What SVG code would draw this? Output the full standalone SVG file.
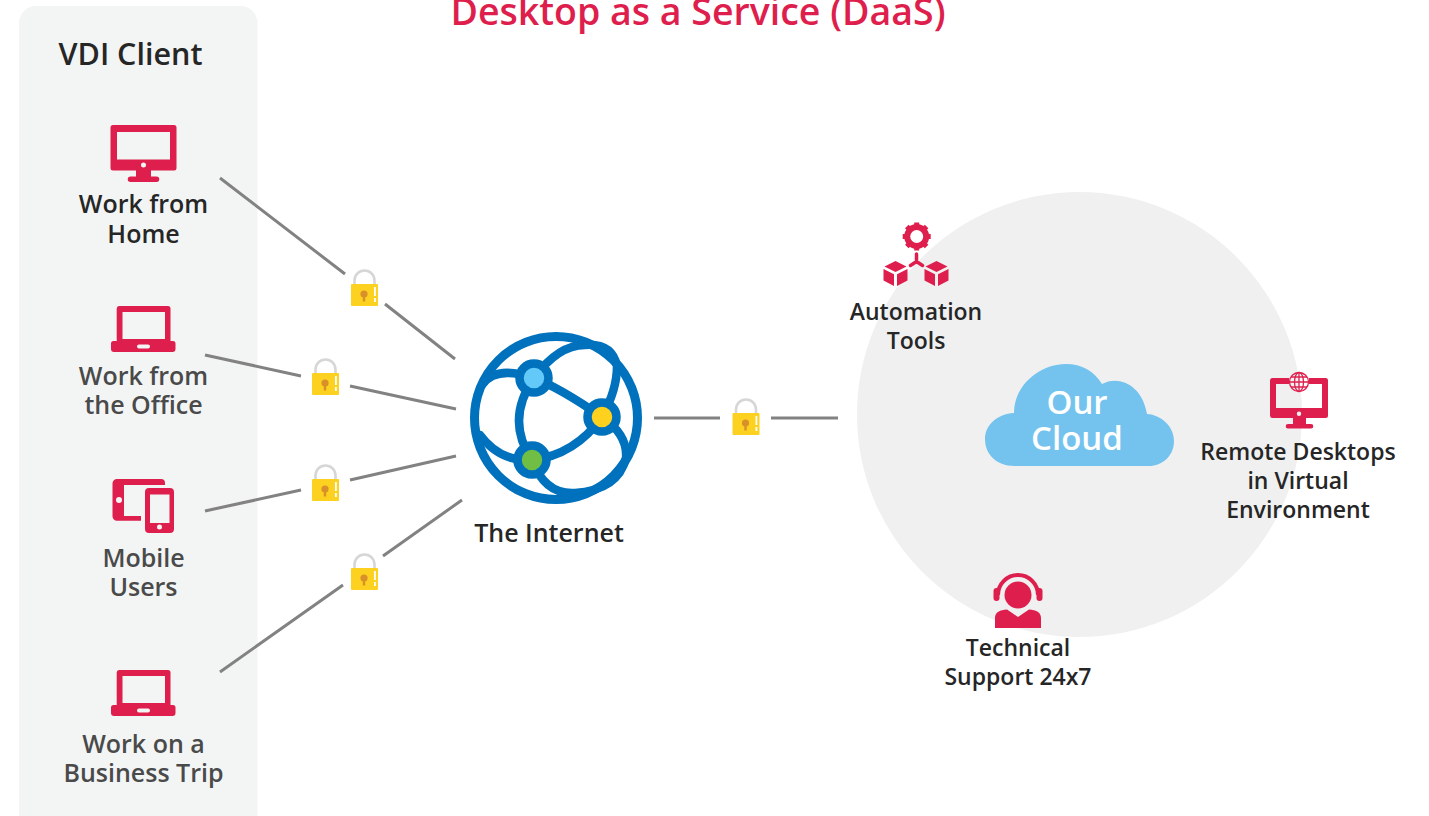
<svg xmlns="http://www.w3.org/2000/svg" xmlns:xlink="http://www.w3.org/1999/xlink" width="1429" height="816" viewBox="0 0 1429 816">
<style>
text{font-family:"Open Sans","Noto Sans","Liberation Sans",sans-serif;font-weight:600;text-anchor:middle}
.l{font-size:25px;fill:#262626}
.g{font-size:25px;fill:#4a4a4a}
.r{fill:#de1f4d}
.c{stroke:#828282;stroke-width:3;fill:none}
.w{fill:none;stroke:#0071bc;stroke-width:8.5;stroke-linecap:round}
</style>
<defs>
<g id="lock">
<path d="M3.5,14V9.5a10,10 0 0 1 20,0V14" fill="none" stroke="#d6d6d6" stroke-width="2.6"/>
<rect x="0" y="13" width="27" height="22" rx="1" fill="#fdd11f"/>
<circle cx="13" cy="23" r="3.6" fill="#d9902a"/><rect x="11.8" y="24" width="2.4" height="6.5" fill="#d9902a"/>
<rect x="23" y="16" width="1.8" height="9" fill="#fff"/><rect x="23" y="27" width="1.8" height="4" fill="#fff"/>
</g>
<path id="laptop" class="r" fill-rule="evenodd" d="M119,306H168a2.500,2.500 0 0 1 2.500,2.500V341H173a2.500,2.500 0 0 1 2.500,2.500V349a3,3 0 0 1 -3,3H114a3,3 0 0 1 -3,-3V343.500a2.500,2.500 0 0 1 2.500,-2.500H116.700V308.500A2.500,2.500 0 0 1 119,306ZM122.500,312V339H165V312ZM139,344.500a2,2 0 0 0 0,4H148a2,2 0 0 0 0,-4Z"/>
<path id="cube" class="r" d="M0,-12L11,-6.500L0,-1L-11,-6.500ZM-12,-4L-1.500,1.200V13L-12,7.500ZM12,-4L1.500,1.200V13L12,7.500Z"/>
</defs>
<rect width="1429" height="816" fill="#fff"/>
<circle id="cloud-bg" cx="1079.500" cy="414.500" r="222.500" fill="#f0f0f0"/>
<rect id="panel" x="19" y="6" width="238.500" height="830" rx="17" fill="#f3f5f5"/>
<text x="698" y="25" font-size="37.500" style="fill:#de1f4d">Desktop as a Service (DaaS)</text>
<text x="130.500" y="65" font-size="30.500" style="fill:#262626">VDI Client</text>

<g id="connectors">
<path class="c" d="M220,178L345,274M385,304L455,359M205,355L301,376M350,386L456,409M205,511L301,490M350,480L456,456M220,672L343,585M383,556L462,500M654,418H720M771,418H838"/>
</g>
<g id="locks">
<use xlink:href="#lock" x="351" y="271"/>
<use xlink:href="#lock" x="312" y="360"/>
<use xlink:href="#lock" x="312" y="466"/>
<use xlink:href="#lock" x="351" y="555"/>
<use xlink:href="#lock" x="732.500" y="400"/>
</g>

<g id="work-home">
<path class="r" fill-rule="evenodd" d="M113,125H174a2.500,2.500 0 0 1 2.500,2.500V168a2.500,2.500 0 0 1 -2.500,2.500H151V176.500H156.500a2.500,2.500 0 0 1 0,5.500H130.500a2.500,2.500 0 0 1 0,-5.500H136V170.500H113a2.500,2.500 0 0 1 -2.500,-2.500V127.500A2.500,2.500 0 0 1 113,125ZM117,132V159.500H170V132ZM143.500,162.500a2.500,2.500 0 1 0 0,5a2.500,2.500 0 1 0 0,-5Z"/>
<text class="l" x="143.500" y="213">Work from</text><text class="l" x="143.500" y="243">Home</text>
</g>
<g id="work-office">
<use xlink:href="#laptop"/>
<text class="g" x="143.500" y="385">Work from</text><text class="g" x="143.500" y="414">the Office</text>
</g>
<g id="mobile">
<path class="r" fill-rule="evenodd" d="M117,479H161a4,4 0 0 1 4,4V485H124V516H141V520.700H117a4.500,4.500 0 0 1 -4.500,-4.500V483.500A4.500,4.500 0 0 1 117,479ZM119,497a3,3 0 1 0 0,6a3,3 0 1 0 0,-6Z"/>
<path class="r" fill-rule="evenodd" d="M149,488H170a4,4 0 0 1 4,4V529a4,4 0 0 1 -4,4H149a4,4 0 0 1 -4,-4V492a4,4 0 0 1 4,-4ZM150,494.500V523H169.500V494.500ZM159.500,524.500a2.500,2.500 0 1 0 0,5a2.500,2.500 0 1 0 0,-5Z"/>
<text class="g" x="143.500" y="567">Mobile</text><text class="g" x="143.500" y="596">Users</text>
</g>
<g id="business-trip">
<use xlink:href="#laptop" y="364"/>
<text class="g" x="143.500" y="753">Work on a</text><text class="g" x="143.500" y="782">Business Trip</text>
</g>

<g id="internet">
<circle cx="556" cy="418" r="81.500" fill="#fff" stroke="#0071bc" stroke-width="9"/>
<path class="w" d="M534,378Q495,365 482,385M534,378Q558,345 585,345Q612,343 617,366Q617,390 602,417Q560,388 534,378M534,378Q505,420 532,460Q575,455 602,417Q628,435 626,458Q618,490 575,493Q545,495 532,460Q500,462 480,435"/>
<circle cx="534" cy="378" r="14.500" fill="#62c9f9" stroke="#0071bc" stroke-width="8.500"/>
<circle cx="602" cy="417" r="14.500" fill="#fed11f" stroke="#0071bc" stroke-width="8.500"/>
<circle cx="532" cy="460" r="14.500" fill="#70bf44" stroke="#0071bc" stroke-width="8.500"/>
<text class="l" x="549" y="542">The Internet</text>
</g>

<g id="automation">
<g class="r">
<circle cx="916.700" cy="236.500" r="9.500" fill="none" stroke="#de1f4d" stroke-width="6"/>
<path fill="none" stroke="#de1f4d" stroke-width="5" d="M916.700,222.500V227M916.700,246V250.500M902.700,236.500H907M926.500,236.500H930.700M906.800,226.600L910,229.800M923.400,243.200L926.600,246.400M906.800,246.400L910,243.200M923.400,229.800L926.600,226.600"/>
</g>
<path fill="none" stroke="#de1f4d" stroke-width="3.500" stroke-linecap="round" d="M916.500,254V261.500M916.500,261.500L910.500,265.500M916.500,261.500L922.500,265.500"/>
<use xlink:href="#cube" x="895.500" y="273"/>
<use xlink:href="#cube" x="936.500" y="273"/>
<text class="l" x="916" y="320" style="font-size:23px">Automation</text><text class="l" x="916" y="349" style="font-size:23px">Tools</text>
</g>

<g id="our-cloud">
<path fill="#74c3ef" d="M1015,466C995,466 985,453 985,439C985,425 997,414 1014,413C1014,385 1040,364 1066,364C1082,364 1094,371 1102,384C1118,375 1142,384 1147,414C1162,415 1174,427 1174,441C1174,456 1162,466 1149,466Z"/>
<text x="1077" y="414" font-size="33" style="fill:#fff">Our</text><text x="1077" y="450" font-size="33" style="fill:#fff">Cloud</text>
</g>

<g id="remote-desktops">
<path class="r" fill-rule="evenodd" d="M1272.500,378H1289V384H1276V408H1322V384H1309V378H1325.500a2.500,2.500 0 0 1 2.500,2.500V415.500a2.500,2.500 0 0 1 -2.500,2.500H1306V424H1311a2.300,2.300 0 0 1 0,4.600H1288a2.300,2.300 0 0 1 0,-4.600H1293V418H1272.500a2.500,2.500 0 0 1 -2.500,-2.500V380.500A2.500,2.500 0 0 1 1272.500,378ZM1299,411.500a2.200,2.200 0 1 0 0,4.400a2.200,2.200 0 1 0 0,-4.400Z"/>
<g fill="none" stroke="#de1f4d" stroke-width="1.300">
<circle cx="1299" cy="382" r="9.500"/><ellipse cx="1299" cy="382" rx="4.500" ry="9.500"/><path d="M1299,372.500V391.500M1289.500,382H1308.500M1291,377H1307M1291,387H1307"/>
</g>
<text class="l" x="1298" y="460" style="font-size:23px">Remote Desktops</text><text class="l" x="1298" y="489" style="font-size:23px">in Virtual</text><text class="l" x="1298" y="518" style="font-size:23px">Environment</text>
</g>

<g id="support">
<circle class="r" cx="1018" cy="595" r="13.500"/>
<path fill="none" stroke="#de1f4d" stroke-width="4" d="M998,595A20,20 0 0 1 1038,595"/>
<rect class="r" x="993.500" y="588" width="6" height="13" rx="3"/><rect class="r" x="1036.500" y="588" width="6" height="13" rx="3"/>
<path class="r" d="M995,628V618C995,612 1000,610 1007,609.500L1018,617L1029,609.500C1036,610 1041,612 1041,618V628Z"/>
<text class="l" x="1018" y="656" style="font-size:23px">Technical</text><text class="l" x="1018" y="685" style="font-size:23px">Support 24x7</text>
</g>
</svg>
